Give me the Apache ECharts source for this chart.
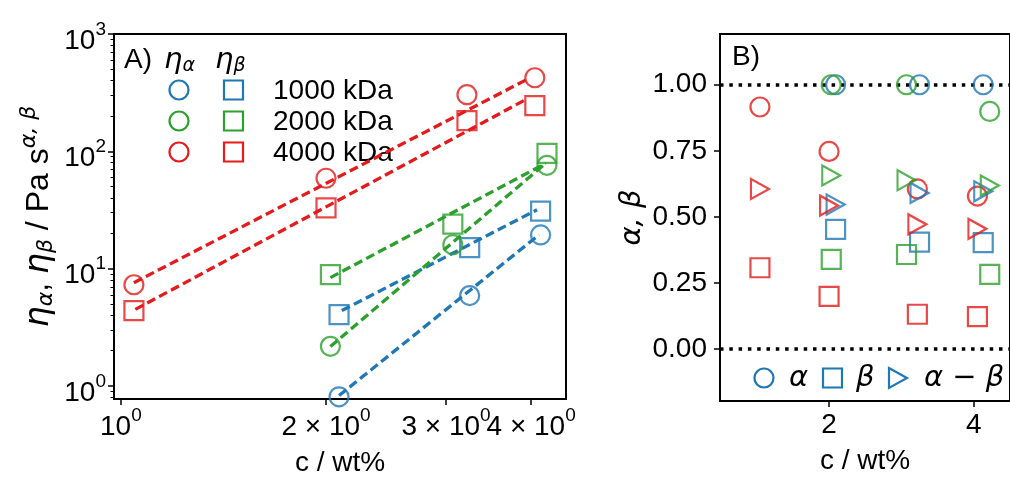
<!DOCTYPE html>
<html>
<head>
<meta charset="utf-8">
<script src="https://cdn.jsdelivr.net/npm/echarts@6/dist/echarts.min.js"></script>
<style>
* { padding: 0; margin: 0; }
#chart { width: 1010px; height: 482px; background: #fff; }
</style>
</head>
<body>
<div id="chart"></div>
<script>
// concentrations (wt%) per molar mass
const cRed = [1.045, 2.0, 3.22, 4.05];    // 4000 kDa
const cGreen = [2.03, 3.07, 4.22];        // 2000 kDa
const cBlue = [2.09, 3.25, 4.13];         // 1000 kDa

// panel A: eta_alpha (circles), eta_beta (squares), Pa s^(alpha,beta)
const etaAlphaRed = [7.3, 59, 304, 424];
const etaBetaRed = [4.4, 33, 183, 245];
const etaAlphaGreen = [2.18, 16.0, 76];
const etaBetaGreen = [8.9, 24, 96];
const etaAlphaBlue = [0.81, 5.9, 19.4];
const etaBetaBlue = [4.07, 15.1, 31];

// dashed power-law fits, [c, eta] at both ends
const fitAlphaRed = [[1.045, 7.6], [3.96, 415]];
const fitBetaRed = [[1.05, 4.5], [3.95, 281]];
const fitAlphaGreen = [[2.03, 2.17], [4.2, 79]];
const fitBetaGreen = [[2.03, 8.4], [4.2, 79]];
const fitAlphaBlue = [[2.09, 0.83], [4.11, 19.5]];
const fitBetaBlue = [[2.11, 4.4], [4.08, 31.8]];

// panel B: exponents
const alphaRed = [0.916, 0.748, 0.606, 0.579];
const betaRed = [0.308, 0.2, 0.132, 0.123];
const diffRed = [0.606, 0.543, 0.472, 0.455];
const alphaGreen = [1.0, 1.0, 0.899];
const betaGreen = [0.34, 0.358, 0.283];
const diffGreen = [0.657, 0.639, 0.619];
const alphaBlue = [1.0, 1.0, 1.0];
const betaBlue = [0.453, 0.405, 0.403];
const diffBlue = [0.547, 0.591, 0.597];

// ticks
const xTicksA = [1, 2, 3, 4];
const xTickLabelsA = ['{m|10}{s|0}', '{m|2 × 10}{s|0}', '{m|3 × 10}{s|0}', '{m|4 × 10}{s|0}'];
const yTicksA = [1, 10, 100, 1000];
const xTicksB = [2, 4];
const yTicksB = [0, 0.25, 0.5, 0.75, 1.0];
const refLinesB = [1.0, 0.0];

const massLabels = ['1000 kDa', '2000 kDa', '4000 kDa'];
const colors = ['#1f77b4', '#2ca02c', '#e41a1c'];

const sans = 'Liberation Sans';
const math = 'DejaVu Sans';
const lg = Math.log10;

const yMinorA = [];
[0.1, 1, 10, 100].forEach(d => {
  for (let k = 2; k <= 9; k++) {
    const v = d * k;
    if (v >= 0.776 && v <= 1000) yMinorA.push(lg(v));
  }
});

const tickRich = {
  m: { fontSize: 28, fontFamily: sans, color: '#000', lineHeight: 28, padding: [14, 0, 0, 0] },
  s: { fontSize: 19, fontFamily: sans, color: '#000', lineHeight: 19, verticalAlign: 'top' }
};

function logPts(c, v) {
  return c.map((x, i) => [lg(x), lg(v[i])]);
}
function logFit(f) {
  return f.map(p => [lg(p[0]), lg(p[1])]);
}
function pts(c, v) {
  return c.map((x, i) => [x, v[i]]);
}
function xLabelA(v) {
  let best = 0;
  xTicksA.forEach((t, i) => { if (Math.abs(lg(t) - v) < Math.abs(lg(xTicksA[best]) - v)) best = i; });
  return xTickLabelsA[best];
}

const tri = 'path://M0,0L18,10L0,20Z';

function marker(name, data, color, symbol, xi, yi) {
  return {
    name: name, type: 'scatter', xAxisIndex: xi, yAxisIndex: yi,
    data: data, symbol: symbol, symbolSize: symbol === tri ? [18, 20] : 19,
    itemStyle: { color: 'rgba(0,0,0,0)', borderColor: color, borderWidth: 2.2 },
    emphasis: { disabled: true }, z: 5
  };
}
function fitLine(data, color) {
  return {
    type: 'line', xAxisIndex: 0, yAxisIndex: 0, data: data, showSymbol: false,
    lineStyle: { color: color, width: 3.3, type: [9, 4.5] }, z: 4, silent: true
  };
}

const series = [
  fitLine(logFit(fitAlphaBlue), colors[0]),
  fitLine(logFit(fitBetaBlue), colors[0]),
  fitLine(logFit(fitAlphaGreen), colors[1]),
  fitLine(logFit(fitBetaGreen), colors[1]),
  fitLine(logFit(fitAlphaRed), colors[2]),
  fitLine(logFit(fitBetaRed), colors[2]),
  marker('a1000', logPts(cBlue, etaAlphaBlue), colors[0], 'circle', 0, 0),
  marker('b1000', logPts(cBlue, etaBetaBlue), colors[0], 'rect', 0, 0),
  marker('a2000', logPts(cGreen, etaAlphaGreen), colors[1], 'circle', 0, 0),
  marker('b2000', logPts(cGreen, etaBetaGreen), colors[1], 'rect', 0, 0),
  marker('a4000', logPts(cRed, etaAlphaRed), colors[2], 'circle', 0, 0),
  marker('b4000', logPts(cRed, etaBetaRed), colors[2], 'rect', 0, 0),
  {
    type: 'scatter', xAxisIndex: 1, yAxisIndex: 2, data: [], silent: true,
    markLine: {
      silent: true, symbol: 'none', label: { show: false }, animation: false,
      lineStyle: { color: '#000', width: 3.5, type: [3.5, 5.8] },
      data: refLinesB.map(v => ({ yAxis: v }))
    }
  },
  marker('alpha1000', pts(cBlue, alphaBlue), colors[0], 'circle', 1, 2),
  marker('alpha2000', pts(cGreen, alphaGreen), colors[1], 'circle', 1, 2),
  marker('alpha4000', pts(cRed, alphaRed), colors[2], 'circle', 1, 2),
  marker('beta1000', pts(cBlue, betaBlue), colors[0], 'rect', 1, 2),
  marker('beta2000', pts(cGreen, betaGreen), colors[1], 'rect', 1, 2),
  marker('beta4000', pts(cRed, betaRed), colors[2], 'rect', 1, 2),
  marker('diff1000', pts(cBlue, diffBlue), colors[0], tri, 1, 2),
  marker('diff2000', pts(cGreen, diffGreen), colors[1], tri, 1, 2),
  marker('diff4000', pts(cRed, diffRed), colors[2], tri, 1, 2)
];

// legends drawn as graphics
const graphic = [];
const rowsY = [90, 121, 152];
massLabels.forEach((t, i) => {
  graphic.push({ type: 'circle', shape: { cx: 179, cy: rowsY[i], r: 9.5 },
    style: { fill: 'none', stroke: colors[i], lineWidth: 2.2 } });
  graphic.push({ type: 'rect', shape: { x: 224, y: rowsY[i] - 9.5, width: 19, height: 19 },
    style: { fill: 'none', stroke: colors[i], lineWidth: 2.2 } });
  graphic.push({ type: 'text', x: 273, y: rowsY[i] + 1,
    style: { text: t, fontSize: 28, fontFamily: sans, fill: '#000', verticalAlign: 'middle' } });
});
const mathRich = {
  g: { fontFamily: math, fontStyle: 'italic', fontSize: 29, lineHeight: 30 },
  b: { fontFamily: math, fontStyle: 'italic', fontSize: 19, lineHeight: 19, padding: [12, 0, 0, 0] }
};
graphic.push({ type: 'text', x: 124, y: 60,
  style: { text: 'A)', fontSize: 28, fontFamily: sans, fill: '#000', verticalAlign: 'middle' } });
graphic.push({ type: 'text', x: 164, y: 60,
  style: { text: '{g|η}{b|α}', rich: mathRich, fill: '#000', verticalAlign: 'middle' } });
graphic.push({ type: 'text', x: 215, y: 60,
  style: { text: '{g|η}{b|β}', rich: mathRich, fill: '#000', verticalAlign: 'middle' } });
graphic.push({ type: 'text', x: 732, y: 57,
  style: { text: 'B)', fontSize: 28, fontFamily: sans, fill: '#000', verticalAlign: 'middle' } });
// panel B legend
const legY = 378;
graphic.push({ type: 'circle', shape: { cx: 764, cy: legY, r: 9.5 },
  style: { fill: 'none', stroke: colors[0], lineWidth: 2.2 } });
graphic.push({ type: 'text', x: 789, y: legY,
  style: { text: 'α', fontSize: 29, fontFamily: math, fontStyle: 'italic', fill: '#000', verticalAlign: 'middle' } });
graphic.push({ type: 'rect', shape: { x: 823, y: legY - 9.5, width: 19, height: 19 },
  style: { fill: 'none', stroke: colors[0], lineWidth: 2.2 } });
graphic.push({ type: 'text', x: 856, y: legY,
  style: { text: 'β', fontSize: 29, fontFamily: math, fontStyle: 'italic', fill: '#000', verticalAlign: 'middle' } });
graphic.push({ type: 'polygon', shape: { points: [[889, legY - 10], [907, legY], [889, legY + 10]] },
  style: { fill: 'none', stroke: colors[0], lineWidth: 2.2 } });
graphic.push({ type: 'text', x: 924, y: legY,
  style: { text: 'α − β', fontSize: 29, fontFamily: math, fontStyle: 'italic', fill: '#000', verticalAlign: 'middle' } });

const tickStyle = { lineStyle: { color: '#000', width: 1.5 }, length: 6 };
const noLine = { show: false, onZero: false };

const chart = echarts.init(document.getElementById('chart'));
chart.setOption({
  animation: false,
  backgroundColor: '#fff',
  grid: [
    { left: 114, top: 34, width: 452, height: 367, show: true, borderColor: '#000', borderWidth: 2, backgroundColor: 'transparent' },
    { left: 720, top: 34, width: 301, height: 367, show: true, borderColor: '#000', borderWidth: 2, backgroundColor: 'transparent' }
  ],
  xAxis: [
    {
      type: 'value', gridIndex: 0, position: 'bottom', offset: 0, min: lg(0.977), max: lg(4.5),
      axisLine: noLine, splitLine: { show: false },
      axisTick: Object.assign({ customValues: xTicksA.map(lg) }, tickStyle),
      axisLabel: {
        // 3 × 10^0 sits on its own overlay axis so the overlapping labels both show
        customValues: [1, 2, 4].map(lg), margin: 7, rich: tickRich,
        hideOverlap: false, showMinLabel: true, showMaxLabel: true,
        formatter: xLabelA
      },
      name: 'c / wt%', nameLocation: 'middle', nameGap: 50,
      nameTextStyle: { fontSize: 28, fontFamily: sans, color: '#000' }
    },
    {
      type: 'value', gridIndex: 1, min: 0.493, max: 4.5,
      axisLine: noLine, splitLine: { show: false },
      axisTick: Object.assign({ customValues: xTicksB }, tickStyle),
      axisLabel: { customValues: xTicksB, margin: 10, fontSize: 28, fontFamily: sans, color: '#000' },
      name: 'c / wt%', nameLocation: 'middle', nameGap: 46,
      nameTextStyle: { fontSize: 28, fontFamily: sans, color: '#000' }
    },
    {
      type: 'value', gridIndex: 0, position: 'bottom', offset: 0, min: lg(0.977), max: lg(4.5),
      axisLine: noLine, splitLine: { show: false }, axisTick: { show: false },
      axisLabel: {
        customValues: [lg(3)], margin: 7, rich: tickRich,
        showMinLabel: true, showMaxLabel: true, formatter: xLabelA
      }
    }
  ],
  yAxis: [
    {
      type: 'value', gridIndex: 0, position: 'left', min: lg(0.776), max: 3,
      axisLine: noLine, splitLine: { show: false },
      axisTick: Object.assign({ customValues: yTicksA.map(lg) }, tickStyle),
      axisLabel: {
        customValues: yTicksA.map(lg), margin: 8, rich: tickRich,
        showMinLabel: true, showMaxLabel: true,
        formatter: v => '{m|10}{s|' + Math.round(v) + '}'
      },
      name: '{g|η}{b|α}{m|, }{g|η}{b|β}{m| / Pa s}{p|α, β}',
      nameLocation: 'middle', nameRotate: 90, nameGap: 56,
      nameTextStyle: {
        color: '#000',
        rich: {
          g: { fontFamily: math, fontStyle: 'italic', fontSize: 33, lineHeight: 34, color: '#000' },
          b: { fontFamily: math, fontStyle: 'italic', fontSize: 22, lineHeight: 22, padding: [13, 0, 0, 0], color: '#000' },
          m: { fontFamily: sans, fontSize: 32, lineHeight: 34, color: '#000' },
          p: { fontFamily: math, fontStyle: 'italic', fontSize: 22, lineHeight: 22, padding: [0, 0, 20, 0], color: '#000' }
        }
      }
    },
    {
      type: 'value', gridIndex: 0, position: 'left', offset: 0, min: lg(0.776), max: 3,
      axisLine: noLine, splitLine: { show: false }, axisLabel: { show: false },
      axisTick: { customValues: yMinorA, length: 3.5, lineStyle: { color: '#000', width: 1 } }
    },
    {
      type: 'value', gridIndex: 1, min: -0.196, max: 1.192,
      axisLine: noLine, splitLine: { show: false },
      axisTick: Object.assign({ customValues: yTicksB }, tickStyle),
      axisLabel: {
        customValues: yTicksB, margin: 13, fontSize: 28, fontFamily: sans, color: '#000',
        showMinLabel: true, showMaxLabel: true,
        formatter: v => v.toFixed(2)
      },
      name: 'α, β', nameLocation: 'middle', nameRotate: 90, nameGap: 73,
      nameTextStyle: { fontFamily: math, fontStyle: 'italic', fontSize: 29, color: '#000' }
    }
  ],
  graphic: graphic,
  series: series
});
</script>
</body>
</html>
